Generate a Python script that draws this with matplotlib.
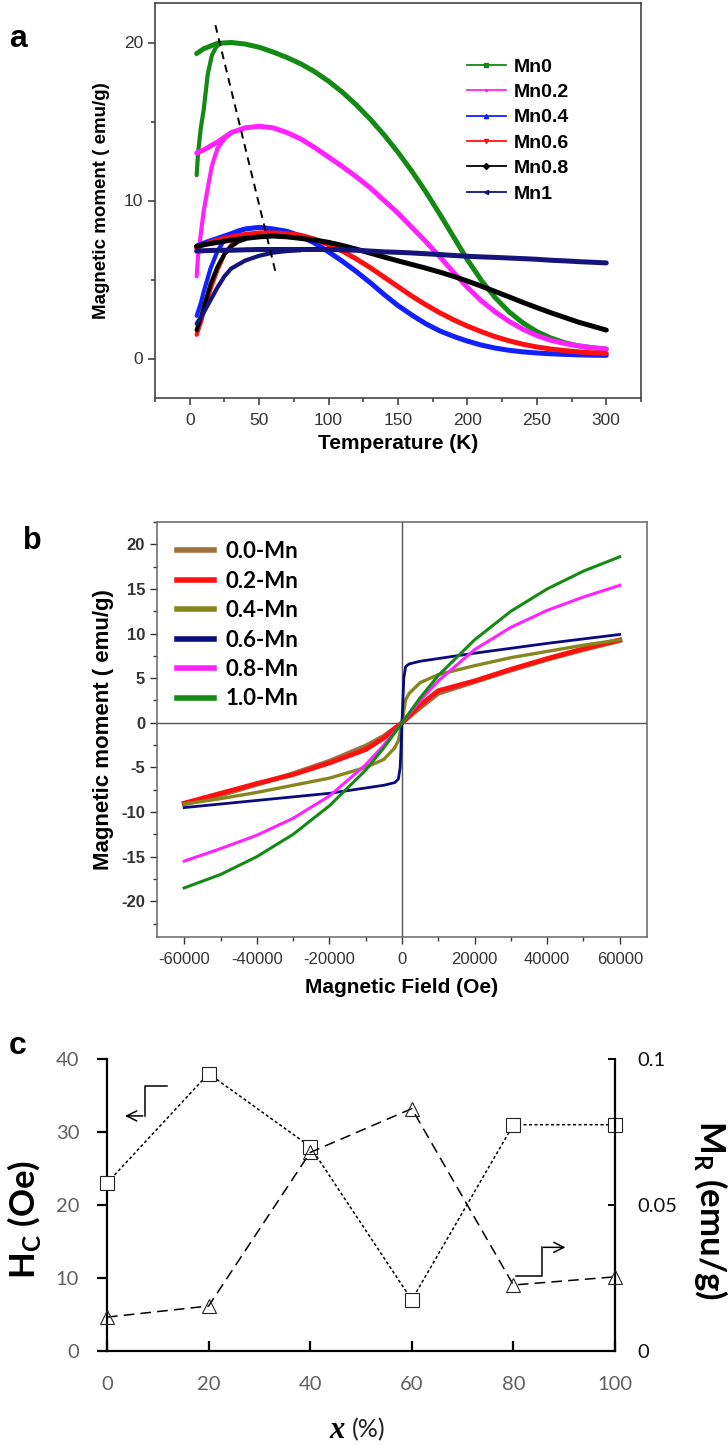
import numpy as np
import matplotlib
matplotlib.use("Agg")
import matplotlib.pyplot as plt
from matplotlib.ticker import MultipleLocator

plt.rcParams['font.family'] = ['Liberation Sans', 'DejaVu Sans']
plt.rcParams['axes.unicode_minus'] = False

# ---------------- panel a : M(T) ----------------
T_fc = [5, 10, 20, 30, 40, 50, 60, 70, 80, 90, 100, 110, 120, 130, 140, 150, 160, 170,
        180, 190, 200, 210, 220, 230, 240, 250, 260, 270, 280, 290, 300]

mn0_fc = [19.3, 19.6, 19.95, 20.0, 19.9, 19.7, 19.4, 19.05, 18.65, 18.15, 17.55, 16.85,
          16.05, 15.15, 14.15, 13.05, 11.85, 10.55, 9.15, 7.7, 6.25, 4.95, 3.85, 2.95,
          2.25, 1.7, 1.3, 1.0, 0.8, 0.68, 0.6]
mn02_fc = [13.0, 13.2, 13.7, 14.3, 14.6, 14.7, 14.6, 14.3, 13.9, 13.35, 12.75, 12.15,
           11.5, 10.8, 10.0, 9.2, 8.3, 7.4, 6.45, 5.45, 4.5, 3.65, 2.95, 2.35, 1.85, 1.45,
           1.15, 0.95, 0.8, 0.68, 0.6]
mn04_fc = [7.1, 7.3, 7.6, 7.9, 8.2, 8.3, 8.2, 8.05, 7.75, 7.3, 6.75, 6.15, 5.5, 4.8, 4.05,
           3.35, 2.75, 2.2, 1.75, 1.4, 1.1, 0.85, 0.66, 0.52, 0.42, 0.35, 0.3, 0.26, 0.23,
           0.21, 0.2]
mn06_fc = [7.0, 7.2, 7.5, 7.7, 7.85, 7.95, 7.95, 7.9, 7.8, 7.55, 7.2, 6.8, 6.3, 5.75,
           5.15, 4.55, 3.95, 3.4, 2.9, 2.45, 2.05, 1.7, 1.38, 1.12, 0.9, 0.73, 0.6, 0.5,
           0.42, 0.36, 0.32]
mn08_fc = [7.1, 7.2, 7.35, 7.5, 7.6, 7.7, 7.75, 7.7, 7.6, 7.5, 7.35, 7.15, 6.92, 6.67,
           6.42, 6.18, 5.95, 5.72, 5.47, 5.2, 4.9, 4.58, 4.24, 3.9, 3.55, 3.22, 2.9, 2.6,
           2.3, 2.05, 1.8]
mn1_fc = [6.8, 6.82, 6.85, 6.85, 6.88, 6.9, 6.9, 6.9, 6.9, 6.9, 6.9, 6.88, 6.85, 6.8, 6.75,
          6.72, 6.68, 6.63, 6.58, 6.52, 6.47, 6.43, 6.4, 6.36, 6.32, 6.28, 6.22, 6.18, 6.13,
          6.09, 6.05]

T_zfc0 = [5, 6, 8, 10, 13, 16, 19, 22]
mn0_zfc = [11.6, 13.0, 14.6, 15.7, 18.0, 19.2, 19.7, 19.95]
T_zfc02 = [5, 6, 8, 10, 13, 16, 20, 25, 30]
mn02_zfc = [5.2, 6.5, 7.9, 9.3, 10.8, 12.2, 13.3, 13.9, 14.3]
T_zfc = [5, 8, 10, 15, 20, 25, 30, 35, 40]
mn04_zfc = [2.7, 3.5, 4.2, 5.7, 6.8, 7.5, 7.9, 8.1, 8.2]
mn06_zfc = [1.5, 2.3, 2.9, 4.4, 5.6, 6.6, 7.2, 7.6, 7.8]
mn08_zfc = [1.8, 2.6, 3.2, 4.7, 5.8, 6.6, 7.1, 7.4, 7.55]
T_zfc1 = [5, 10, 15, 20, 25, 30, 40, 50, 60, 70, 80]
mn1_zfc = [2.2, 2.9, 3.7, 4.5, 5.2, 5.7, 6.2, 6.5, 6.7, 6.8, 6.85]

guide_T = [18.5, 62]
guide_M = [21.1, 5.4]

# ---------------- panel b : M(H) ----------------
H_std = [-60000, -50000, -40000, -30000, -20000, -10000, -5000, 0,
         5000, 10000, 20000, 30000, 40000, 50000, 60000]
mh_00 = [-9.1, -8.1, -6.9, -5.7, -4.3, -2.6, -1.5, 0, 1.7, 3.3, 4.6, 5.9, 7.1, 8.2, 9.2]
mh_02 = [-9.0, -7.9, -6.8, -5.8, -4.5, -3.0, -1.7, 0, 2.0, 3.6, 4.7, 6.0, 7.2, 8.3, 9.3]
mh_08 = [-15.5, -14.1, -12.6, -10.7, -8.2, -4.7, -2.5, 0, 2.5, 4.7, 8.2, 10.7, 12.6, 14.1, 15.4]
mh_10 = [-18.5, -17.0, -15.0, -12.5, -9.3, -5.3, -2.8, 0, 2.8, 5.3, 9.3, 12.5, 15.0, 17.0, 18.6]

H_04 = [-60000, -50000, -40000, -30000, -20000, -10000, -5000, -2000, -1000, 0,
        1000, 2000, 5000, 10000, 20000, 30000, 40000, 50000, 60000]
mh_04 = [-9.1, -8.5, -7.8, -7.0, -6.2, -5.0, -4.1, -2.8, -2.0, 0,
         2.6, 3.3, 4.5, 5.4, 6.4, 7.3, 8.0, 8.7, 9.3]
H_06 = [-60000, -40000, -20000, -10000, -5000, -2000, -1000, -500, 0,
        500, 1000, 2000, 5000, 10000, 20000, 40000, 60000]
mh_06 = [-9.5, -8.7, -7.9, -7.3, -7.0, -6.7, -6.3, -5.0, 0,
         5.0, 6.3, 6.6, 6.9, 7.2, 7.8, 8.9, 9.9]

# ---------------- panel c : Hc and Mr ----------------
x_pct = [0, 20, 40, 60, 80, 100]
hc = [23, 38, 28, 7, 31, 31]
mr = [0.0116, 0.0154, 0.068, 0.083, 0.0226, 0.0254]

W, H = 728, 1445
fig = plt.figure(figsize=(W / 100, H / 100), dpi=100)


def box(l, t, r, b):
    return [l / W, 1 - b / H, (r - l) / W, (b - t) / H]


# ===== a =====
ax = fig.add_axes(box(155, 3, 641, 398))
cols = ['#138a13', '#ff22ff', '#1020ff', '#ff1010', '#000000', '#14147a']
names = ['Mn0', 'Mn0.2', 'Mn0.4', 'Mn0.6', 'Mn0.8', 'Mn1']
mk = ['s', '.', '^', 'v', 'D', '<']
fcs = [mn0_fc, mn02_fc, mn04_fc, mn06_fc, mn08_fc, mn1_fc]
zfcs = [(T_zfc0, mn0_zfc), (T_zfc02, mn02_zfc), (T_zfc, mn04_zfc), (T_zfc, mn06_zfc),
        (T_zfc, mn08_zfc), (T_zfc1, mn1_zfc)]
for i in range(6):
    ax.plot(T_fc, fcs[i], color=cols[i], lw=3.6, solid_capstyle='round', zorder=3 + i * 0.1)
    ax.plot(zfcs[i][0], zfcs[i][1], color=cols[i], lw=3.0, solid_capstyle='round',
            zorder=3 + i * 0.1)
ax.plot(guide_T, guide_M, color='black', ls=(0, (4, 3)), lw=1.4, zorder=6)
handles = [plt.Line2D([], [], color=cols[i], lw=1.3, marker=mk[i], ms=3) for i in range(6)]
ax.legend(handles, names, loc='upper left', bbox_to_anchor=(0.605, 0.905), frameon=False,
          prop={'weight': 'bold', 'size': 14}, handlelength=2.05, handletextpad=0.36,
          labelspacing=0.4)
ax.set_xlim(-25, 325)
ax.set_ylim(-2.5, 22.5)
ax.xaxis.set_major_locator(MultipleLocator(50))
ax.xaxis.set_minor_locator(MultipleLocator(25))
ax.yaxis.set_major_locator(MultipleLocator(10))
ax.yaxis.set_minor_locator(MultipleLocator(5))
ax.tick_params(which='both', direction='out', colors='#333333', labelsize=12.5, width=1.1)
ax.tick_params(which='major', length=5)
ax.tick_params(which='minor', length=3)
ax.tick_params(axis='x', pad=6)
for s in ax.spines.values():
    s.set_color('#444444')
    s.set_linewidth(1.2)
ax.set_xlabel('Temperature (K)', fontweight='bold', fontsize=15, labelpad=4)
ax.set_ylabel('Magnetic moment ( emu/g)', fontweight='bold', fontsize=13.5, labelpad=10)
fig.text(18 / W, 1 - 39 / H, 'a', fontsize=23, fontweight='bold', ha='center', va='center')

# ===== b =====
bx = fig.add_axes(box(157, 522, 647, 937))
bx.axhline(0, color='#555555', lw=1.0, zorder=1)
bx.axvline(0, color='#555555', lw=1.0, zorder=1)
bx.plot(H_std, mh_00, color='#a0703c', lw=3.4, label='0.0-Mn', zorder=3)
bx.plot(H_std, mh_02, color='#ff1010', lw=3.4, label='0.2-Mn', zorder=3.1)
bx.plot(H_04, mh_04, color='#86861c', lw=2.4, label='0.4-Mn', zorder=3.2)
bx.plot(H_06, mh_06, color='#0a0a80', lw=2.0, label='0.6-Mn', zorder=3.3)
bx.plot(H_std, mh_08, color='#ff22ff', lw=2.2, label='0.8-Mn', zorder=3.4)
bx.plot(H_std, mh_10, color='#138a13', lw=2.2, label='1.0-Mn', zorder=3.5)
bx.legend(loc='upper left', bbox_to_anchor=(0.0, 1.002), frameon=False,
          prop={'family': 'Lato', 'weight': 'bold', 'size': 16}, handlelength=1.65,
          handletextpad=0.55, labelspacing=0.38)
for l in bx.get_legend().get_lines():
    l.set_linewidth(4)
bx.set_xlim(-67500, 67500)
bx.set_ylim(-24, 22.5)
bx.xaxis.set_major_locator(MultipleLocator(20000))
bx.xaxis.set_minor_locator(MultipleLocator(10000))
bx.yaxis.set_major_locator(MultipleLocator(5))
bx.yaxis.set_minor_locator(MultipleLocator(2.5))
bx.tick_params(which='both', direction='out', colors='#333333', width=1.0)
bx.tick_params(which='major', length=5)
bx.tick_params(which='minor', length=3)
bx.tick_params(axis='y', labelsize=12)
bx.tick_params(axis='x', labelsize=12, pad=6)
for lab in bx.get_yticklabels():
    lab.set_fontweight('bold')
for s in bx.spines.values():
    s.set_color('#666666')
    s.set_linewidth(1.1)
bx.set_xlabel('Magnetic Field (Oe)', fontweight='bold', fontsize=15, labelpad=8)
bx.set_ylabel('Magnetic moment ( emu/g)', fontweight='bold', fontsize=16, labelpad=5)
fig.text(32 / W, 1 - 541 / H, 'b', fontsize=22, fontweight='bold', ha='center', va='center')

# ===== c =====
cx = fig.add_axes(box(107, 1059, 615, 1351))
cx.plot(x_pct, hc, color='black', ls=(0, (2, 1.6)), lw=1.1, marker='s', ms=10,
        mfc='white', mec='#222222', mew=0.8, zorder=3, clip_on=False)
cx.set_xlim(0, 100)
cx.set_ylim(0, 40)
cx.set_yticks([0, 10, 20, 30, 40])
cx.set_xticks(x_pct)
for s in ['top', 'right']:
    cx.spines[s].set_visible(False)
cx.spines['left'].set_linewidth(1.6)
cx.spines['bottom'].set_linewidth(1.6)
cx.tick_params(axis='y', direction='out', length=7, width=1.6, labelsize=14.5,
               labelcolor='#606060', pad=13)
cx.tick_params(axis='x', direction='in', length=7, width=1.6, labelsize=14.5,
               labelcolor='#606060', pad=18)
for lab in cx.get_xticklabels() + cx.get_yticklabels():
    lab.set_family('Lato')

cr = cx.twinx()
cr.plot(x_pct, mr, color='black', ls=(0, (7, 4)), lw=1.1, marker='^', ms=10,
        mfc='none', mec='#222222', mew=0.8, zorder=3, clip_on=False)
cr.set_ylim(0, 0.1)
cr.set_yticks([0, 0.05, 0.1])
cr.set_yticklabels(['0', '0.05', '0.1'])
for s in ['top', 'left', 'bottom']:
    cr.spines[s].set_visible(False)
cr.spines['right'].set_linewidth(1.6)
cr.tick_params(axis='y', direction='in', length=5, width=1.4, labelsize=14.5,
               labelcolor='#111111', pad=16)
for lab in cr.get_yticklabels():
    lab.set_family('Lato')

# arrows pointing to the axes
cx.annotate('', xy=(3.0, 32.2), xytext=(7.6, 32.2),
            arrowprops=dict(arrowstyle='->', color='black', lw=1.1, mutation_scale=18))
cx.plot([11.8, 7.5, 7.5], [36.3, 36.3, 32.2], color='black', lw=1.1)
cx.plot([80.5, 85.6, 85.6], [10.3, 10.3, 14.2], color='black', lw=1.1)
cx.annotate('', xy=(90.8, 14.2), xytext=(85.4, 14.2),
            arrowprops=dict(arrowstyle='->', color='black', lw=1.1, mutation_scale=18))

fig.text(24 / W, 1 - 1219 / H, r'H$_\mathregular{C}$ (Oe)', rotation=90, fontsize=25,
         fontweight='bold', family='Lato', ha='center', va='center')
fig.text(711 / W, 1 - 1210 / H, r'M$_\mathregular{R}$ (emu/g)', rotation=270, fontsize=25,
         fontweight='bold', family='Lato', ha='center', va='center')
fig.text(337 / W, 1 - 1430 / H, 'x', fontsize=22, fontweight='bold', style='italic',
         family='Liberation Serif', ha='center', va='center')
fig.text(369 / W, 1 - 1430 / H, '(%)', fontsize=18, family='Lato', color='#222222',
         ha='center', va='center')
fig.text(18 / W, 1 - 1046 / H, 'c', fontsize=23, fontweight='bold', ha='center', va='center')

fig.savefig('out.png', dpi=100, facecolor='white')
